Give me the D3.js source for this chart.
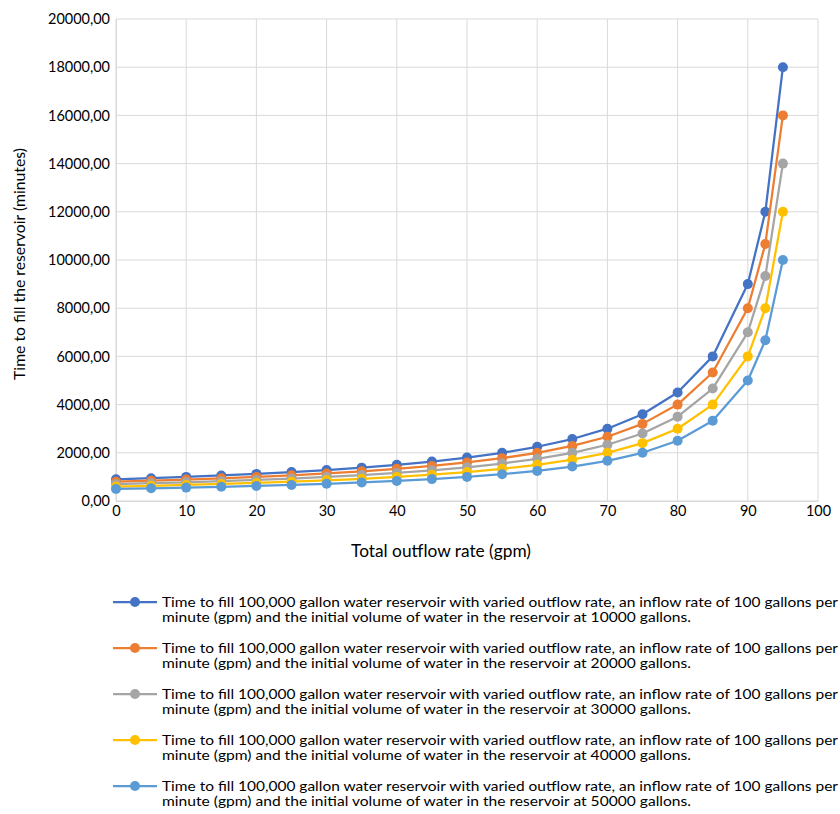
<!DOCTYPE html>
<html><head><meta charset="utf-8">
<script src="https://cdn.jsdelivr.net/npm/d3@7"></script>
<style>body{margin:0;background:#fff;}svg{display:block;font-family:Lato,"Open Sans",sans-serif;}</style>
</head><body>
<svg id="c" width="840" height="814"></svg>
<script>
const outflow = [0,5,10,15,20,25,30,35,40,45,50,55,60,65,70,75,80,85,90,92.5,95];
const s10000 = [900,947.37,1000,1058.82,1125,1200,1285.71,1384.62,1500,1636.36,1800,2000,2250,2571.43,3000,3600,4500,6000,9000,12000,18000];
const s20000 = [800,842.11,888.89,941.18,1000,1066.67,1142.86,1230.77,1333.33,1454.55,1600,1777.78,2000,2285.71,2666.67,3200,4000,5333.33,8000,10666.67,16000];
const s30000 = [700,736.84,777.78,823.53,875,933.33,1000,1076.92,1166.67,1272.73,1400,1555.56,1750,2000,2333.33,2800,3500,4666.67,7000,9333.33,14000];
const s40000 = [600,631.58,666.67,705.88,750,800,857.14,923.08,1000,1090.91,1200,1333.33,1500,1714.29,2000,2400,3000,4000,6000,8000,12000];
const s50000 = [500,526.32,555.56,588.24,625,666.67,714.29,769.23,833.33,909.09,1000,1111.11,1250,1428.57,1666.67,2000,2500,3333.33,5000,6666.67,10000];
const initialVolumes = ["10000","20000","30000","40000","50000"];
const seriesColors = ["#4472C4","#ED7D31","#A5A5A5","#FFC000","#5B9BD5"];
const xTicks = [0,10,20,30,40,50,60,70,80,90,100];
const yTicks = [0,2000,4000,6000,8000,10000,12000,14000,16000,18000,20000];
const seriesList = [s10000,s20000,s30000,s40000,s50000];

const svg = d3.select("#c");
const L=116,R=818,T=19,B=501;
const x = d3.scaleLinear().domain([0,100]).range([L,R]);
const y = d3.scaleLinear().domain([0,20000]).range([B,T]);
const fmt = v => d3.format(".2f")(v).replace(".",",");

// helper: font size that makes a string a given width
function fitSize(str, target){
  const t = svg.append("text").attr("font-size",20).text(str);
  const w = t.node().getComputedTextLength();
  t.remove();
  return 20*target/w;
}
const tickFS = fitSize("20000,00", 62);
const xTitleFS = fitSize("Total outflow rate (gpm)", 180);
const yTitleFS = fitSize("Time to fill the reservoir (minutes)", 232);

// grid
svg.append("g").selectAll("line.h").data(yTicks).join("line")
  .attr("x1",L).attr("x2",R).attr("y1",d=>y(d)).attr("y2",d=>y(d))
  .attr("stroke","#d9d9d9").attr("stroke-width",1);
svg.append("g").selectAll("line.v").data(xTicks).join("line")
  .attr("x1",d=>x(d)).attr("x2",d=>x(d)).attr("y1",T).attr("y2",B)
  .attr("stroke","#d9d9d9").attr("stroke-width",1);

// axes
const yAxis = svg.append("g").attr("transform",`translate(${L},0)`)
  .call(d3.axisLeft(y).tickValues(yTicks).tickFormat(fmt).tickSize(0).tickPadding(6));
yAxis.attr("font-family",null).attr("font-size",null);
yAxis.select(".domain").attr("stroke","#d9d9d9");
yAxis.selectAll("text").attr("font-size",tickFS).attr("fill","#000");
const xAxis = svg.append("g").attr("transform",`translate(0,${B})`)
  .call(d3.axisBottom(x).tickValues(xTicks).tickFormat(d3.format("d")).tickSize(0).tickPadding(5));
xAxis.attr("font-family",null).attr("font-size",null);
xAxis.select(".domain").attr("stroke","#d9d9d9");
xAxis.selectAll("text").attr("font-size",tickFS).attr("fill","#000");

// series
const line = d3.line().x((d,i)=>x(outflow[i])).y(d=>y(d));
seriesList.forEach((s,k)=>{
  const g = svg.append("g");
  g.append("path").datum(s).attr("d",line).attr("fill","none")
    .attr("stroke",seriesColors[k]).attr("stroke-width",2.25).attr("stroke-linejoin","round");
  g.selectAll("circle").data(s).join("circle")
    .attr("cx",(d,i)=>x(outflow[i])).attr("cy",d=>y(d)).attr("r",5)
    .attr("fill",seriesColors[k]);
});

// axis titles
svg.append("text").attr("x",441).attr("y",557).attr("text-anchor","middle")
  .attr("font-size",xTitleFS).text("Total outflow rate (gpm)");
svg.append("text").attr("transform",`translate(25,264) rotate(-90)`).attr("text-anchor","middle")
  .attr("font-size",yTitleFS).text("Time to fill the reservoir (minutes)");

// legend
const legY0 = 602, legStep = 46;
initialVolumes.forEach((v,k)=>{
  const yy = legY0 + k*legStep;
  const g = svg.append("g");
  g.append("line").attr("x1",113).attr("x2",157).attr("y1",yy).attr("y2",yy)
    .attr("stroke",seriesColors[k]).attr("stroke-width",2.25);
  g.append("circle").attr("cx",135).attr("cy",yy).attr("r",5).attr("fill",seriesColors[k]);
  g.append("text").attr("x",162).attr("y",yy+4.5).attr("font-size",13.5)
    .attr("textLength",676).attr("lengthAdjust","spacingAndGlyphs")
    .text("Time to fill 100,000 gallon water reservoir with varied outflow rate, an inflow rate of 100 gallons per");
  g.append("text").attr("x",162).attr("y",yy+19.5).attr("font-size",13.5)
    .attr("textLength",529).attr("lengthAdjust","spacingAndGlyphs")
    .text(`minute (gpm) and the initial volume of water in the reservoir at ${v} gallons.`);
});
</script>
</body></html>
